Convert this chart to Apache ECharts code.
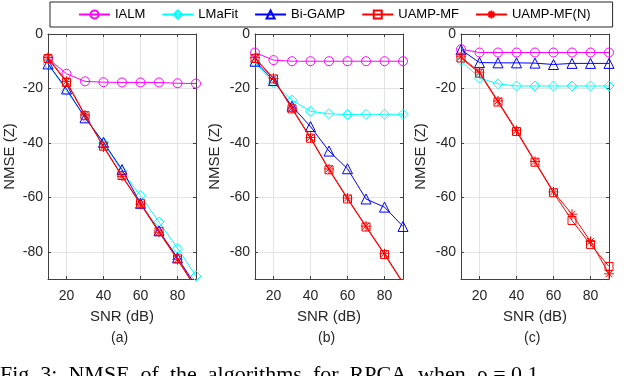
<!DOCTYPE html>
<html>
<head>
<meta charset="utf-8">
<script src="https://cdn.jsdelivr.net/npm/echarts@6/dist/echarts.min.js"></script>
<style>html,body{margin:0;padding:0;background:#fff}#c{width:640px;height:376px}</style>
</head>
<body>
<div id="c"></div>
<script>
// ---------- data ----------
const snr = [10, 20, 30, 40, 50, 60, 70, 80, 90];
const xTicks = [20, 40, 60, 80];
const yTicks = [-80, -60, -40, -20, 0];
const seriesNames = ['IALM', 'LMaFit', 'Bi-GAMP', 'UAMP-MF', 'UAMP-MF(N)'];
const panelLabels = ['(a)', '(b)', '(c)'];

// panel (a)
const a_IALM   = [-9, -14.6, -17.4, -17.7, -17.8, -17.8, -17.8, -18.1, -18.2];
const a_LMaFit = [-11, -20.8, -30.5, -40, -50.5, -59.4, -69.1, -78.7, -88.9];
const a_BiGAMP = [-11, -20.2, -30.8, -39.8, -49.8, -62.2, -72.3, -82.2, -92.5];
const a_UAMP   = [-9, -17.8, -30, -41.2, -52, -62.2, -72.5, -82.6, -93.3];
const a_UAMPN  = [-8.6, -17.4, -29.7, -41.5, -52.3, -62.5, -72.8, -82.9, -93.6];

// panel (b)
const b_IALM   = [-6.8, -9.6, -10, -10, -10, -10, -10, -10, -10];
const b_LMaFit = [-10.5, -18, -24.3, -28.4, -29.3, -29.6, -29.5, -29.5, -29.5];
const b_BiGAMP = [-10, -17.1, -26.5, -34, -43, -49.5, -60.6, -63.6, -70.7];
const b_UAMP   = [-9, -16.5, -27.5, -38.3, -49.9, -60.6, -70.9, -81, -91.6];
const b_UAMPN  = [-8.7, -16.3, -27.2, -38, -49.6, -60.3, -70.6, -80.7, -91.3];

// panel (c)
const c_IALM   = [-5.6, -6.8, -6.8, -6.8, -6.8, -6.8, -6.8, -6.8, -6.8];
const c_LMaFit = [-9.8, -16.2, -18.3, -19.1, -19.1, -19.1, -19.1, -19.1, -19.1];
const c_BiGAMP = [-5.8, -10.5, -10.6, -10.6, -10.7, -11.2, -10.8, -10.8, -10.8];
const c_UAMP   = [-8.8, -14.4, -25, -35.8, -47.1, -58.3, -68.5, -77.3, -85.4];
const c_UAMPN  = [-8.4, -14, -24.6, -35.4, -46.8, -58, -66.2, -76.2, -88.1];

const panels = [
  [a_IALM, a_LMaFit, a_BiGAMP, a_UAMP, a_UAMPN],
  [b_IALM, b_LMaFit, b_BiGAMP, b_UAMP, b_UAMPN],
  [c_IALM, c_LMaFit, c_BiGAMP, c_UAMP, c_UAMPN]
];

// ---------- style ----------
const colors = ['#ff00ff', '#00ffff', '#0000ff', '#ff0000', '#ff0000'];
const star = 'path://M5,0L5,10M0,5L10,5M1.6,1.6L8.4,8.4M1.6,8.4L8.4,1.6';
const symbols = ['circle', 'diamond', 'triangle', 'rect', star];
const symSizes = [9, 10, 10, 8, 10];
const font = 'Liberation Sans';
const axisColor = '#404040';
const gridLefts = [48, 255, 461];
const gridW = 148, gridTop = 34, gridH = 245;

const grids = [], xAxes = [], yAxes = [], series = [], graphics = [];
gridLefts.forEach((l, g) => {
  grids.push({left: l, top: gridTop, width: gridW, height: gridH, containLabel: false});
  const common = {
    type: 'value', gridIndex: g, min: 10, max: 90,
    axisLine: {show: true, onZero: false, lineStyle: {color: axisColor, width: 1}},
    axisTick: {show: true, inside: true, length: 3, customValues: xTicks, lineStyle: {color: axisColor}},
  };
  xAxes.push(Object.assign({}, common, {
    position: 'bottom',
    axisLabel: {show: true, customValues: xTicks, margin: 10, fontFamily: font, fontSize: 14, color: '#262626'},
    splitLine: {show: true, lineStyle: {color: '#e3e3e3', width: 1}},
    name: 'SNR (dB)', nameLocation: 'middle', nameGap: 30,
    nameTextStyle: {fontFamily: font, fontSize: 15, color: '#262626'}
  }));
  xAxes.push(Object.assign({}, common, {
    position: 'top', axisLabel: {show: false}, splitLine: {show: false}
  }));
  const ycommon = {
    type: 'value', gridIndex: g, min: -90, max: 0,
    axisLine: {show: true, onZero: false, lineStyle: {color: axisColor, width: 1}},
    axisTick: {show: true, inside: true, length: 3, customValues: yTicks, lineStyle: {color: axisColor}},
  };
  yAxes.push(Object.assign({}, ycommon, {
    position: 'left',
    axisLabel: {show: true, customValues: yTicks, margin: 5, fontFamily: font, fontSize: 14, color: '#262626'},
    splitLine: {show: true, lineStyle: {color: '#e3e3e3', width: 1}},
    name: 'NMSE (Z)', nameLocation: 'middle', nameGap: g === 0 ? 31 : 33,
    nameTextStyle: {fontFamily: font, fontSize: 15, color: '#262626'}
  }));
  yAxes.push(Object.assign({}, ycommon, {
    position: 'right', axisLabel: {show: false}, splitLine: {show: false}
  }));

  panels[g].forEach((vals, k) => {
    series.push({
      type: 'line', name: seriesNames[k],
      xAxisIndex: 2 * g, yAxisIndex: 2 * g,
      data: snr.map((x, i) => [x, vals[i]]),
      symbol: symbols[k], symbolSize: symSizes[k],
      showAllSymbol: true, clip: true,
      lineStyle: {color: colors[k], width: 1},
      itemStyle: {color: 'rgba(0,0,0,0)', borderColor: colors[k], borderWidth: 1},
      emphasis: {disabled: true},
      z: 2 + k, animation: false
    });
  });

  graphics.push({
    type: 'text', left: l + gridW / 2 - 11, top: 331,
    style: {text: panelLabels[g], font: '14px Liberation Sans', fill: '#262626'}
  });
});

graphics.push({
  type: 'text', left: 0, top: 364,
  style: {text: 'Fig. 3:  NMSE  of  the  algorithms  for  RPCA  when  \u03c1 = 0.1 \u2026', font: '22px Liberation Serif', fill: '#000'}
});

const option = {
  animation: false,
  backgroundColor: '#fff',
  grid: grids, xAxis: xAxes, yAxis: yAxes, series: series,
  legend: {
    data: seriesNames, left: 50, top: 2,
    padding: [6, 22, 6, 28], itemGap: 16, itemWidth: 31, itemHeight: 10,
    borderColor: '#262626', borderWidth: 1, backgroundColor: '#fff',
    textStyle: {fontFamily: font, fontSize: 13, color: '#000'}
  },
  graphic: graphics
};
const chart = echarts.init(document.getElementById('c'), null, {renderer: 'canvas'});
chart.setOption(option);
</script>
</body>
</html>
